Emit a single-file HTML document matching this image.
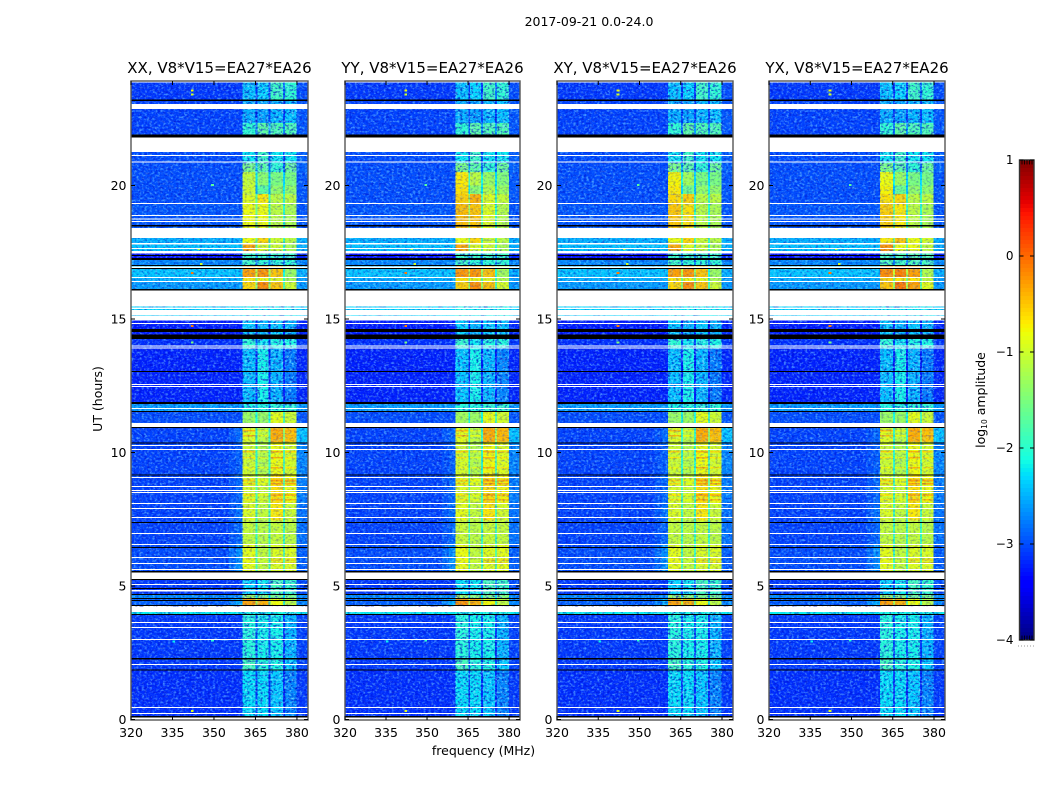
<!DOCTYPE html>
<html lang="en">
<head>
<meta charset="utf-8">
<title>2017-09-21 amplitude spectrograms</title>
<style>
html,body{margin:0;padding:0;background:#fff}
svg{display:block}
text{font-family:"DejaVu Sans","Liberation Sans",sans-serif;fill:#000}
</style>
</head>
<body>
<svg id="chart" width="1050" height="800" viewBox="0 0 1050 800" xmlns="http://www.w3.org/2000/svg">
<defs>
<filter id="grain-light" x="0" y="0" width="100%" height="100%">
<feTurbulence type="fractalNoise" baseFrequency="0.38 0.48" numOctaves="2" seed="3"/>
<feColorMatrix type="matrix" values="0 0 0 0 0.25  0 0 0 0 0.8  0 0 0 0 1  3.2 0 0 0 -1.5"/>
</filter>
<filter id="grain-dark" x="0" y="0" width="100%" height="100%">
<feTurbulence type="fractalNoise" baseFrequency="0.38 0.48" numOctaves="2" seed="11"/>
<feColorMatrix type="matrix" values="0 0 0 0 0  0 0 0 0 0  0 0 0 0 0.5  3.2 0 0 0 -1.5"/>
</filter>
</defs>
<text x="589" y="26" font-size="12.5" text-anchor="middle">2017-09-21 0.0-24.0</text>
<text x="483.5" y="755" font-size="12.5" text-anchor="middle">frequency (MHz)</text>
<text transform="translate(102,399) rotate(-90)" font-size="12.5" text-anchor="middle">UT (hours)</text>
<text transform="translate(985,400) rotate(-90)" font-size="12.5" text-anchor="middle">log<tspan font-size="7.5" dy="2">10</tspan><tspan dy="-2"> amplitude</tspan></text>
<g id="panels"></g>
<g id="colorbar"></g>
</svg>
<script>
/* ---------- data ---------- */
const panelTitles = ['XX, V8*V15=EA27*EA26', 'YY, V8*V15=EA27*EA26', 'XY, V8*V15=EA27*EA26', 'YX, V8*V15=EA27*EA26'];
const xTickLabels = [320, 335, 350, 365, 380];
const yTickLabels = [0, 5, 10, 15, 20];
const colorbarTicks = [1, 0, -1, -2, -3, -4];

/* frequency column edges (MHz): background, glow-outer, glow-inner, band1, notch, band2, notch, band3, notch, band4, right */
const columnEdges = [320, 355.5, 358, 360.4, 365.1, 365.8, 369.8, 370.5, 374.9, 375.6, 379.9, 384];

/* log10 amplitude: [hour start, hour end, background, glow, band1, band2, band3, band4, right] */
const timeRows = [
  [23.22, 23.92, -3.10, -3.10, -2.40, -2.30, -1.90, -2.00, -3.00],
  [22.35, 23.22, -3.05, -3.05, -2.50, -2.55, -2.45, -2.40, -2.95],
  [21.80, 22.35, -3.05, -3.05, -2.00, -1.70, -1.80, -1.80, -2.95],
  [20.85, 21.25, -3.00, -3.00, -2.20, -1.90, -2.20, -2.20, -2.90],
  [20.50, 20.85, -3.00, -3.00, -1.50, -1.70, -2.00, -1.60, -2.90],
  [20.00, 20.50, -3.00, -3.00, -1.05, -1.40, -1.50, -1.50, -2.95],
  [19.68, 20.00, -3.00, -3.00, -1.00, -1.70, -1.35, -1.35, -2.95],
  [19.30, 19.68, -3.00, -3.00, -0.90, -0.70, -1.10, -1.10, -2.95],
  [18.40, 19.30, -2.95, -2.95, -0.80, -0.80, -1.10, -1.20, -2.95],
  [17.85, 18.03, -2.50, -2.50, -0.80, -0.60, -1.00, -1.10, -2.50],
  [17.55, 17.85, -2.40, -2.40, -0.35, -0.90, -1.00, -1.20, -2.50],
  [17.28, 17.55, -3.30, -3.30, -1.90, -1.90, -1.90, -1.90, -3.20],
  [17.00, 17.28, -2.70, -2.70, -1.90, -2.00, -2.00, -2.00, -2.70],
  [16.57, 17.00, -2.40, -2.40, -0.30, -0.25, -0.50, -1.30, -2.50],
  [16.38, 16.57, -2.50, -2.50, -0.70, -0.80, -0.90, -1.20, -2.60],
  [16.07, 16.38, -2.60, -2.60, -0.60, -0.20, -0.50, -1.00, -2.60],
  [14.94, 15.47, -2.30, -2.30, -2.20, -2.20, -2.20, -2.20, -2.30],
  [14.25, 14.94, -3.25, -3.25, -2.35, -2.45, -2.35, -2.45, -3.20],
  [13.90, 14.25, -3.15, -3.15, -2.00, -2.20, -2.10, -2.10, -3.10],
  [11.89, 13.90, -3.22, -3.22, -2.40, -2.15, -2.45, -2.75, -3.20],
  [11.55, 11.82, -2.60, -2.60, -2.10, -2.05, -2.00, -2.00, -2.60],
  [10.96, 11.55, -3.00, -3.00, -1.30, -1.30, -0.85, -1.00, -2.95],
  [10.40, 10.96, -3.05, -2.85, -0.90, -1.10, -0.40, -0.50, -2.40],
  [9.20, 10.40, -3.05, -2.90, -1.00, -1.15, -0.80, -0.95, -2.70],
  [8.10, 9.20, -3.05, -2.85, -0.95, -1.00, -0.65, -0.80, -2.75],
  [7.45, 8.10, -3.05, -2.80, -0.90, -1.05, -0.70, -1.00, -2.80],
  [6.55, 7.45, -3.05, -2.85, -1.05, -1.10, -1.05, -1.10, -2.80],
  [5.51, 6.55, -3.00, -2.65, -0.85, -1.05, -0.90, -0.90, -2.90],
  [4.70, 5.26, -3.10, -3.10, -2.30, -2.20, -1.85, -1.95, -3.00],
  [4.55, 4.70, -2.70, -2.70, -1.30, -1.40, -1.50, -1.50, -2.70],
  [4.25, 4.55, -2.90, -2.50, -0.30, -0.40, -0.80, -1.10, -2.70],
  [3.91, 4.03, -2.20, -2.20, -2.10, -2.10, -2.10, -2.10, -2.20],
  [2.30, 3.91, -3.10, -3.10, -2.05, -2.15, -2.15, -2.45, -3.05],
  [1.85, 2.30, -3.10, -3.10, -1.85, -2.05, -2.10, -2.35, -3.05],
  [0.00, 1.85, -3.15, -3.15, -2.25, -2.25, -2.35, -2.70, -3.10]
];

/* bright narrow stripes inside the bands: [hour start, hour end, band1, band2, band3, band4] */
const bandStripes = [
  [10.78, 10.84, -0.45, -0.85, -0.30, -0.40],
  [10.60, 10.66, -0.45, -0.85, -0.30, -0.40],
  [10.00, 10.05, -0.55, -0.90, -0.40, -0.60],
  [9.78, 9.83, -0.70, -0.90, -0.40, -0.70],
  [9.40, 9.45, -0.80, -0.90, -0.40, -0.70],
  [8.92, 8.98, -0.60, -0.80, -0.30, -0.35],
  [8.80, 8.86, -0.60, -0.80, -0.30, -0.35],
  [8.38, 8.44, -0.70, -0.85, -0.35, -0.45],
  [8.20, 8.26, -0.70, -0.85, -0.35, -0.45],
  [5.95, 6.00, -0.75, -0.95, -0.45, -0.45],
  [5.84, 5.88, -0.75, -0.95, -0.45, -0.45]
];

/* per-correlation adjustments: [panel, hour start, hour end, band1, band2, band3, band4] */
const panelAdjustments = [
  [1, 18.40, 20.50, 0.35, 0.30, 0.20, 0.05],
  [1, 4.25, 17.00, 0.05, 0.00, 0.02, 0.05],
  [2, 18.40, 20.50, 0.30, 0.15, 0.00, 0.00],
  [3, 18.40, 20.50, 0.25, 0.10, 0.00, 0.00],
  [3, 16.07, 18.03, 0.10, 0.10, 0.20, 0.15]
];

/* rows with no data (white) */
const whiteRows = [
  [23.86,23.91],[22.87,23.05],[21.25,21.80],[21.10,21.14],[20.86,20.90],[19.31,19.34],
  [18.86,18.90],[18.73,18.76],[18.63,18.67],[18.03,18.41],[17.79,17.85],[17.62,17.66],
  [17.45,17.55],[16.91,16.97],[16.54,16.57],[16.39,16.42],[15.47,16.07],[15.38,15.43],
  [15.15,15.34],[14.94,15.13],[14.81,14.85],[13.97,14.01],[13.90,13.93],[12.53,12.57],
  [12.45,12.49],[11.63,11.67],[10.96,11.10],[10.24,10.28],[10.09,10.13],[9.04,9.08],
  [8.71,8.75],[8.56,8.60],[8.48,8.52],[8.07,8.11],[7.88,7.92],[7.55,7.58],[6.95,6.99],
  [6.54,6.57],[6.05,6.09],[5.82,5.86],[5.60,5.64],[5.26,5.51],[5.04,5.07],[4.79,4.85],
  [4.03,4.21],[3.61,3.65],[3.43,3.46],[2.98,3.01],[2.04,2.08],[0.43,0.47],[0.21,0.24],[0,0.07]
];
/* rows with flagged zero amplitude (black) */
const blackRows = [
  [23.16,23.22],[21.80,21.91],[18.46,18.52],[17.36,17.40],[17.21,17.28],[16.99,17.02],
  [16.88,16.91],[16.07,16.12],[14.51,14.63],[14.25,14.42],[13.02,13.05],[11.82,11.89],
  [11.52,11.55],[10.92,10.96],[10.34,10.37],[9.15,9.18],[7.36,7.40],[6.42,6.46],
  [5.51,5.56],[5.22,5.26],[4.89,4.93],[4.67,4.70],[4.51,4.55],[4.45,4.48],[4.25,4.29],
  [3.91,3.95],[2.25,2.30],[1.84,1.87],[0.07,0.13]
];
/* isolated interference cells: [hour, MHz, log10 amplitude] */
const hotCells = [
  [23.6,341.7,-0.8],[23.45,341.7,-1.0],[16.76,341.7,-0.1],[14.78,341.7,-0.1],
  [20.05,349,-1.7],[17.65,344,-1.2],[17.1,345,-1.0],
  [3.0,349,-2.0],[2.95,335,-2.2],[0.35,341.7,-0.9],[14.15,341.7,-1.5]
];

/* ---------- layout ---------- */
const NS = 'http://www.w3.org/2000/svg';
const panelX = [[131, 308], [345, 520], [557, 733], [769, 945]];
const axisTop = 81, axisBottom = 720;
const yOfHour = h => 719.5 - 26.7 * h;
const xOfFreq = (p, f) => panelX[p][0] + (f - 320) * (panelX[p][1] - panelX[p][0]) / (384 - 320);
const yOfLevel = v => 160 + (1 - v) * 96;

function jet(t) {
  t = Math.max(0, Math.min(1, t));
  const lerp = (pts) => {
    for (let i = 1; i < pts.length; i++) {
      if (t <= pts[i][0]) {
        const [a, va] = pts[i - 1], [b, vb] = pts[i];
        return va + (vb - va) * (t - a) / (b - a);
      }
    }
    return pts[pts.length - 1][1];
  };
  const r = lerp([[0, 0], [0.35, 0], [0.66, 1], [0.89, 1], [1, 0.5]]);
  const g = lerp([[0, 0], [0.125, 0], [0.375, 1], [0.64, 1], [0.91, 0], [1, 0]]);
  const b = lerp([[0, 0.5], [0.11, 1], [0.34, 1], [0.65, 0], [1, 0]]);
  return `rgb(${Math.round(r * 255)},${Math.round(g * 255)},${Math.round(b * 255)})`;
}
const colorOf = v => jet((v + 4) / 5);

function make(tag, attrs, parent) {
  const el = document.createElementNS(NS, tag);
  for (const k in attrs) el.setAttribute(k, attrs[k]);
  parent.appendChild(el);
  return el;
}

function bandAdjustment(row, p) {
  const adj = [0, 0, 0, 0];
  panelAdjustments.forEach(a => {
    if (a[0] === p && row[0] >= a[1] - 0.001 && row[1] <= a[2] + 0.001) {
      for (let i = 0; i < 4; i++) adj[i] += a[3 + i];
    }
  });
  return adj;
}

function columnValues(row, p) {
  const adj = bandAdjustment(row, p);
  const b = [row[4] + adj[0], row[5] + adj[1], row[6] + adj[2], row[7] + adj[3]];
  const notch = (l, r) => Math.max(row[2], Math.min(l, r) - 0.8);
  return [row[2], (row[2] + row[3]) / 2, row[3], b[0], notch(b[0], b[1]), b[1], notch(b[1], b[2]), b[2], notch(b[2], b[3]), b[3], row[8]];
}

const panelsRoot = document.getElementById('panels');
panelTitles.forEach((title, p) => {
  const [x0, x1] = panelX[p];
  const w = x1 - x0, h = axisBottom - axisTop;
  const bandX0 = xOfFreq(p, columnEdges[3]), bandX1 = xOfFreq(p, columnEdges[10]);
  const g = make('g', {}, panelsRoot);
  
  

  const bg = make('rect', { x: x0, y: axisTop, width: w, height: h, fill: '#fff' }, g);
  
  

  const cells = make('g', { 'shape-rendering': 'crispEdges' }, g);
  
  
  timeRows.forEach(row => {
    const vals = columnValues(row, p);
    const yTop = yOfHour(row[1]), yBot = yOfHour(row[0]);
    vals.forEach((v, c) => {
      const xa = xOfFreq(p, columnEdges[c]), xb = xOfFreq(p, columnEdges[c + 1]);
      const cell = make('rect', { x: xa, y: yTop, width: xb - xa, height: yBot - yTop, fill: colorOf(v) }, cells);
      
      
    });
  });
  const bandColumns = [3, 5, 7, 9];
  bandStripes.forEach(s => {
    const yTop = yOfHour(s[1]), yBot = yOfHour(s[0]);
    bandColumns.forEach((c, i) => {
      const xa = xOfFreq(p, columnEdges[c]), xb = xOfFreq(p, columnEdges[c + 1]);
      const stripe = make('rect', { x: xa, y: yTop, width: xb - xa, height: Math.max(1.2, yBot - yTop), fill: colorOf(s[2 + i]) }, cells);
      
      
    });
  });

  /* decorative receiver-noise texture: stronger on faint cells, subtle on bright bands */
  const grainRegions = [[x0, bandX0], [bandX1, x1]];
  grainRegions.forEach(r => {
    const a = make('rect', { x: r[0], y: axisTop, width: r[1] - r[0], height: h, filter: 'url(#grain-light)', opacity: 0.5 }, g);
    
    
    const b = make('rect', { x: r[0], y: axisTop, width: r[1] - r[0], height: h, filter: 'url(#grain-dark)', opacity: 0.45 }, g);
    
    
  });
  timeRows.forEach(row => {
    const peak = Math.max(row[4], row[5], row[6], row[7]);
    const strength = peak > -1.3 ? 0.28 : 0.7;
    const yTop = yOfHour(row[1]), yBot = yOfHour(row[0]);
    const a = make('rect', { x: bandX0, y: yTop, width: bandX1 - bandX0, height: yBot - yTop, filter: 'url(#grain-light)', opacity: strength }, g);
    
    
    const b = make('rect', { x: bandX0, y: yTop, width: bandX1 - bandX0, height: yBot - yTop, filter: 'url(#grain-dark)', opacity: strength }, g);
    
    
  });

  const hot = make('g', { 'shape-rendering': 'crispEdges' }, g);
  
  
  hotCells.forEach(c => {
    const cell = make('rect', { x: xOfFreq(p, c[1]), y: yOfHour(c[0]), width: 2.6, height: 2, fill: colorOf(c[2]) }, hot);
    
    
  });

  const drawRows = (list, fill, name) => {
    const group = make('g', { 'shape-rendering': 'crispEdges' }, g);
    
    
    list.forEach(r => {
      const top = yOfHour(r[1]), bot = yOfHour(r[0]);
      const bar = make('rect', { x: x0, y: top, width: w, height: Math.max(1, bot - top), fill }, group);
      
      
    });
  };
  drawRows(blackRows, '#000', 'flagged-row');
  drawRows(whiteRows, '#fff', 'missing-row');

  const frame = make('rect', { x: x0, y: axisTop, width: w, height: h, fill: 'none', stroke: '#555', 'stroke-width': 1.4 }, g);
  
  

  xTickLabels.forEach(f => {
    const x = xOfFreq(p, f);
    const t1 = make('line', { x1: x, x2: x, y1: axisBottom, y2: axisBottom - 4, stroke: '#000' }, g);
    
    
    const t2 = make('line', { x1: x, x2: x, y1: axisTop, y2: axisTop + 4, stroke: '#000' }, g);
    
    
    const lab = make('text', { x: x, y: 737, 'font-size': 12.5, 'text-anchor': 'middle' }, g);
    
    
    lab.textContent = f;
  });
  yTickLabels.forEach(hr => {
    const y = yOfHour(hr);
    const t1 = make('line', { x1: x0, x2: x0 + 4, y1: y, y2: y, stroke: '#000' }, g);
    
    
    const t2 = make('line', { x1: x1, x2: x1 - 4, y1: y, y2: y, stroke: '#000' }, g);
    
    
    const lab = make('text', { x: x0 - 4.5, y: y + 4.5, 'font-size': 12.5, 'text-anchor': 'end' }, g);
    
    
    lab.textContent = hr;
  });

  const tt = make('text', { x: (x0 + x1) / 2, y: 73, 'font-size': 15, 'text-anchor': 'middle' }, g);
  
  
  tt.textContent = title;
});

/* ---------- colorbar ---------- */
const cb = document.getElementById('colorbar');
const cbX0 = 1019.5, cbX1 = 1034;
const cbSteps = 120;
const strip = make('g', { 'shape-rendering': 'crispEdges' }, cb);


for (let i = 0; i < cbSteps; i++) {
  const vTop = 1 - 5 * i / cbSteps;
  const vBot = 1 - 5 * (i + 1) / cbSteps;
  const seg = make('rect', { x: cbX0, y: yOfLevel(vTop), width: cbX1 - cbX0, height: yOfLevel(vBot) - yOfLevel(vTop) + 0.5, fill: colorOf((vTop + vBot) / 2) }, strip);
  
  
}
const cbFrame = make('rect', { x: cbX0, y: 160, width: cbX1 - cbX0, height: 480, fill: 'none', stroke: '#333', 'stroke-width': 1.4 }, cb);


colorbarTicks.forEach(v => {
  const y = yOfLevel(v);
  const l = make('line', { x1: cbX0, x2: cbX0 + 4, y1: y, y2: y, stroke: '#000' }, cb);
  
  
  const r = make('line', { x1: cbX1, x2: cbX1 - 4, y1: y, y2: y, stroke: '#000' }, cb);
  
  
  const lab = make('text', { x: 1013.5, y: y + 4, 'font-size': 12, 'text-anchor': 'end' }, cb);
  
  
  lab.textContent = String(v).replace('-', '\u2212');
});
[0, 1, 2, 3, 4].forEach(i => {
  const x = 1022 + i * 2.5;
  const a = make('line', { x1: x, x2: x, y1: 160, y2: 164.5, stroke: '#000', 'stroke-width': 0.8 }, cb);
  
  
  const b = make('line', { x1: x, x2: x, y1: 640, y2: 635.5, stroke: '#000', 'stroke-width': 0.8 }, cb);
  
  
});
const dots = make('line', { x1: 1018, x2: 1035, y1: 646, y2: 646, stroke: '#999', 'stroke-width': 1, 'stroke-dasharray': '1 2' }, cb);


</script>
</body>
</html>
